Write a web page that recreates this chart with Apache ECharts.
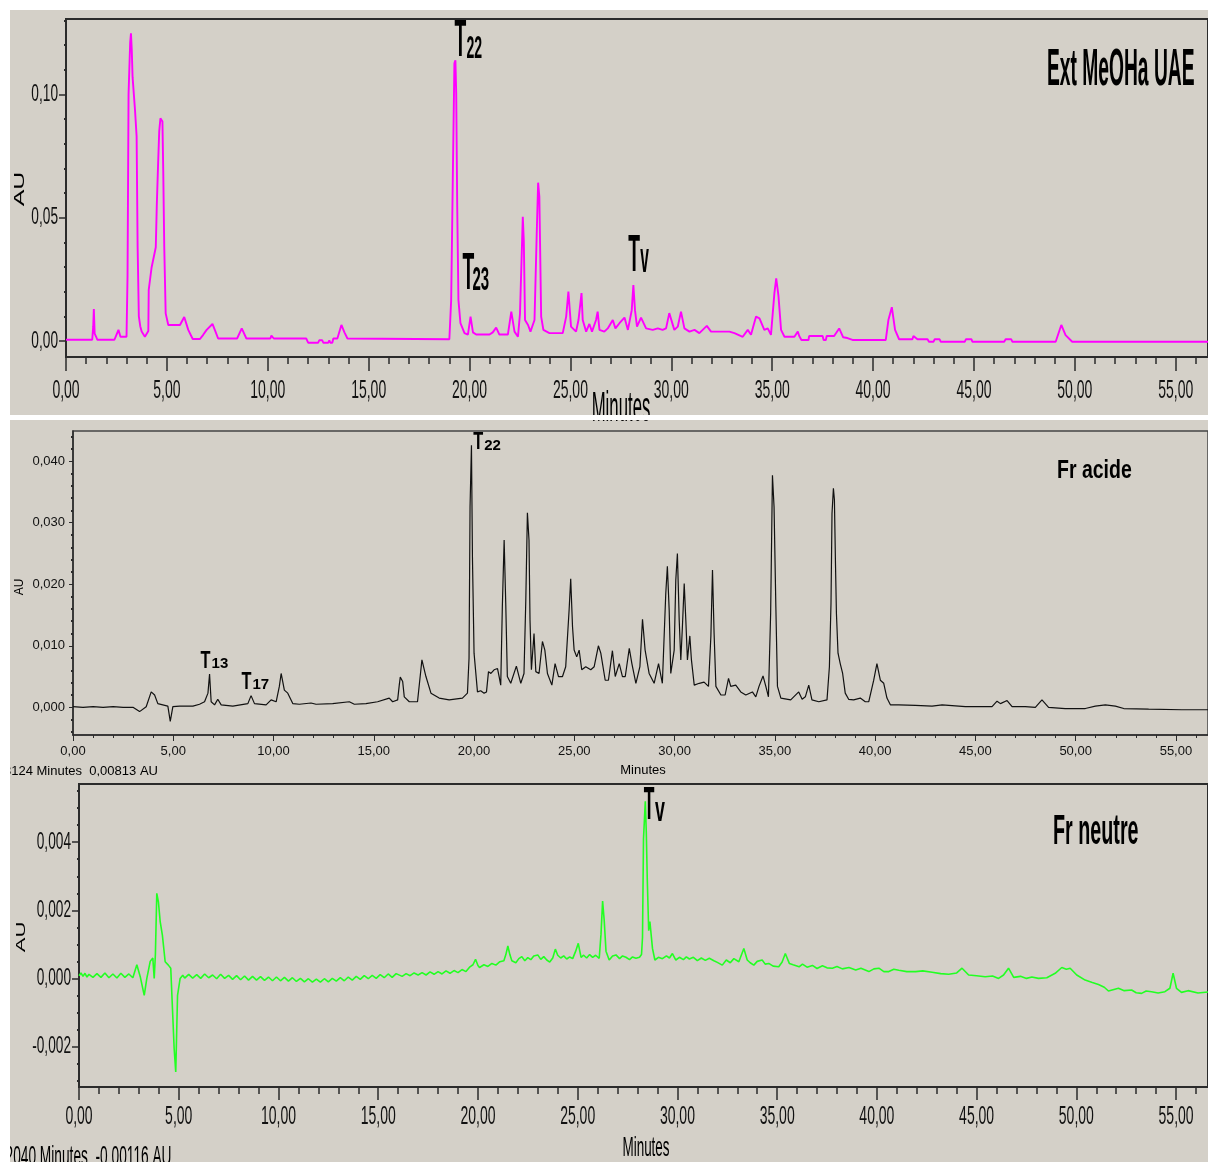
<!DOCTYPE html>
<html><head><meta charset="utf-8">
<script src="https://cdn.jsdelivr.net/npm/echarts@6/dist/echarts.min.js"></script>
<style>html,body{margin:0;padding:0;background:#fff}#c{width:1208px;height:1162px}</style>
</head><body><div id="c"></div><script>
// ---------- DATA (minutes, AU) ----------
const extMeOHa = [[0,0.0005],[1.3,0.0005],[1.35,0.006],[1.38,0.013],[1.42,0.003],[1.5,0.0016],[1.55,0.0005],[2.4,0.0005],[2.5,0.0025],[2.6,0.0045],[2.7,0.0017],[3.0,0.0017],[3.05,0.0265],[3.1,0.1],[3.18,0.121],[3.22,0.1248],[3.26,0.118],[3.3,0.107],[3.42,0.0937],[3.5,0.083],[3.55,0.038],[3.61,0.01],[3.68,0.006],[3.75,0.0038],[3.91,0.0017],[4.0,0.0025],[4.08,0.004],[4.1,0.0207],[4.24,0.0297],[4.45,0.038],[4.5,0.055],[4.56,0.0707],[4.62,0.085],[4.68,0.0903],[4.78,0.089],[4.82,0.069],[4.87,0.038],[4.94,0.0112],[5.07,0.0065],[5.65,0.0065],[5.86,0.0097],[5.95,0.009],[6.06,0.0045],[6.28,0.0008],[6.64,0.0008],[6.8,0.0025],[6.97,0.0045],[7.26,0.0069],[7.4,0.004],[7.54,0.001],[8.48,0.001],[8.71,0.0051],[8.94,0.001],[10.13,0.001],[10.18,0.0022],[10.3,0.001],[11.91,0.001],[12.0,-0.0007],[12.5,-0.0007],[12.55,0.0003],[12.7,0.0003],[12.75,-0.0007],[13.0,-0.0007],[13.05,0.0003],[13.1,-0.0007],[13.2,-0.0007],[13.25,0.001],[13.45,0.001],[13.65,0.0065],[13.8,0.0035],[13.95,0.001],[19.0,0.0007],[19.09,0.0166],[19.17,0.0653],[19.25,0.1126],[19.3,0.1139],[19.34,0.1004],[19.39,0.0545],[19.45,0.0166],[19.55,0.0072],[19.75,0.0032],[19.92,0.0026],[20.05,0.0099],[20.17,0.0035],[20.33,0.0026],[20.99,0.0026],[21.15,0.0035],[21.32,0.0054],[21.48,0.0026],[21.9,0.0026],[22.07,0.0119],[22.23,0.0038],[22.4,0.0017],[22.5,0.011],[22.64,0.0504],[22.69,0.0406],[22.75,0.0085],[22.9,0.0065],[23.02,0.0038],[23.22,0.0085],[23.33,0.0434],[23.4,0.0642],[23.46,0.0586],[23.55,0.0099],[23.66,0.0045],[23.96,0.0032],[24.62,0.0032],[24.79,0.0099],[24.9,0.02],[25.03,0.0058],[25.28,0.0038],[25.4,0.0085],[25.55,0.0194],[25.61,0.0085],[25.78,0.0038],[25.94,0.0069],[26.07,0.0038],[26.27,0.0085],[26.35,0.0119],[26.44,0.0045],[26.68,0.0038],[26.85,0.0051],[27.1,0.0085],[27.23,0.0051],[27.43,0.0072],[27.68,0.0095],[27.85,0.0045],[28.04,0.0125],[28.12,0.0227],[28.2,0.0125],[28.3,0.0058],[28.5,0.0095],[28.75,0.0051],[29.08,0.0045],[29.33,0.0051],[29.57,0.0045],[29.74,0.0051],[29.9,0.0113],[30.15,0.0045],[30.32,0.0058],[30.48,0.0119],[30.65,0.0051],[30.9,0.0038],[31.15,0.0045],[31.39,0.0032],[31.76,0.0061],[31.97,0.0038],[32.39,0.0038],[32.88,0.0038],[33.13,0.0032],[33.54,0.0017],[33.79,0.0045],[33.95,0.0025],[34.2,0.0099],[34.37,0.0092],[34.61,0.0045],[34.78,0.0051],[34.94,0.0025],[35.11,0.0194],[35.2,0.0254],[35.31,0.0184],[35.44,0.0045],[35.61,0.0017],[36.1,0.0017],[36.27,0.0038],[36.34,0.002],[36.45,0.0004],[36.8,0.0004],[36.83,0.002],[37.5,0.002],[37.55,0.0004],[37.66,0.0004],[37.7,0.002],[38.07,0.002],[38.32,0.0051],[38.52,0.0015],[38.73,0.0012],[38.98,0.0004],[40.63,0.0004],[40.76,0.0085],[40.93,0.0137],[41.09,0.0045],[41.29,0.0007],[41.95,0.0007],[42.0,0.002],[42.2,0.0007],[42.7,0.0007],[42.77,-0.0003],[43.0,-0.0003],[43.05,0.0007],[43.3,0.0007],[43.35,-0.0003],[44.55,-0.0003],[44.6,0.0007],[44.88,0.0007],[44.92,-0.0003],[46.5,-0.0003],[46.57,0.0007],[46.85,0.0007],[46.9,-0.0003],[49.05,-0.0003],[49.33,0.0065],[49.54,0.0024],[49.87,-0.0003],[56.6,-0.0003]];

const frAcide = [[0,0.0001],[0.5,0.0],[1,0.0001],[1.5,0.0],[2,0.0001],[2.5,0.0],[2.99,0.0],[3.32,-0.0007],[3.65,0.0001],[3.9,0.0025],[4.07,0.002],[4.23,0.0006],[4.48,0.0004],[4.73,0.0002],[4.85,-0.0023],[4.98,0.0001],[5.32,0.0002],[5.98,0.0002],[6.31,0.0005],[6.56,0.0009],[6.73,0.0023],[6.81,0.0054],[6.89,0.0009],[7.06,0.0004],[7.22,0.0013],[7.39,0.0004],[7.97,0.0002],[8.72,0.0006],[8.88,0.0019],[9.05,0.0006],[9.63,0.0004],[9.88,0.0012],[10.13,0.0009],[10.29,0.0034],[10.38,0.0055],[10.54,0.0028],[10.71,0.0023],[10.96,0.0006],[11.29,0.0005],[11.87,0.0007],[12.12,0.0005],[12.95,0.0006],[13.78,0.0009],[14.03,0.0005],[14.61,0.0006],[15.19,0.0009],[15.77,0.0015],[15.94,0.0009],[16.19,0.0012],[16.27,0.0036],[16.32,0.0049],[16.44,0.0042],[16.52,0.0017],[16.77,0.0009],[17.18,0.0009],[17.4,0.0077],[17.6,0.005],[17.85,0.0023],[18.26,0.0015],[18.76,0.0012],[19.42,0.0015],[19.67,0.0023],[19.75,0.008],[19.8,0.0326],[19.87,0.0426],[19.92,0.0242],[20.0,0.0088],[20.17,0.0025],[20.33,0.0027],[20.5,0.0023],[20.62,0.0025],[20.72,0.0058],[20.84,0.0055],[21.0,0.0061],[21.17,0.0063],[21.25,0.005],[21.33,0.0036],[21.41,0.0163],[21.5,0.0272],[21.58,0.0169],[21.66,0.005],[21.83,0.0039],[22.11,0.0067],[22.33,0.0039],[22.49,0.0055],[22.58,0.0174],[22.66,0.0316],[22.74,0.0272],[22.79,0.0142],[22.86,0.0061],[22.99,0.012],[23.08,0.0058],[23.24,0.0055],[23.41,0.0107],[23.53,0.0093],[23.66,0.0055],[23.88,0.0036],[24.04,0.0071],[24.21,0.005],[24.41,0.005],[24.57,0.0066],[24.74,0.0158],[24.82,0.0209],[24.91,0.0131],[24.99,0.0093],[25.12,0.0082],[25.24,0.0093],[25.37,0.0061],[25.57,0.0066],[25.82,0.0061],[25.99,0.0066],[26.2,0.01],[26.32,0.0088],[26.54,0.0044],[26.7,0.0044],[26.9,0.0092],[27.04,0.005],[27.24,0.0071],[27.4,0.005],[27.54,0.005],[27.74,0.0096],[27.87,0.0071],[28.07,0.0039],[28.27,0.0066],[28.4,0.0143],[28.53,0.0093],[28.73,0.0055],[28.98,0.0039],[29.2,0.0071],[29.39,0.0039],[29.56,0.0185],[29.64,0.0229],[29.73,0.0158],[29.81,0.0055],[29.98,0.0093],[30.06,0.0207],[30.14,0.025],[30.23,0.0142],[30.31,0.0077],[30.39,0.0131],[30.48,0.0201],[30.56,0.0142],[30.64,0.0077],[30.76,0.0116],[30.84,0.0077],[30.98,0.0036],[31.23,0.0039],[31.47,0.0041],[31.69,0.0034],[31.81,0.0116],[31.89,0.0223],[31.97,0.012],[32.06,0.0034],[32.31,0.002],[32.52,0.002],[32.69,0.0047],[32.8,0.0034],[33.05,0.0036],[33.3,0.0025],[33.55,0.002],[33.88,0.0025],[34.05,0.0017],[34.21,0.0034],[34.41,0.0051],[34.55,0.0034],[34.68,0.0017],[34.79,0.0153],[34.88,0.0377],[34.96,0.0326],[35.05,0.0163],[35.13,0.0034],[35.3,0.0015],[35.79,0.0012],[36.19,0.0025],[36.36,0.0013],[36.52,0.0017],[36.69,0.0036],[36.85,0.0012],[37.19,0.0009],[37.6,0.0012],[37.72,0.0066],[37.8,0.0169],[37.85,0.0315],[37.92,0.0356],[37.97,0.0337],[38.02,0.0239],[38.07,0.0153],[38.15,0.0088],[38.26,0.0071],[38.38,0.0055],[38.51,0.0023],[38.68,0.0013],[38.93,0.0012],[39.26,0.0015],[39.51,0.0009],[39.68,0.0009],[39.93,0.0044],[40.09,0.0071],[40.26,0.0044],[40.43,0.0039],[40.59,0.0015],[40.76,0.0004],[41.18,0.0004],[42.01,0.0003],[42.84,0.0002],[43.34,0.0004],[44.5,0.0001],[45.83,0.0001],[46.08,0.001],[46.25,0.0006],[46.58,0.0011],[46.83,0.0001],[47.49,0.0001],[47.99,0.0],[48.32,0.0012],[48.65,0.0],[49.48,-0.0002],[50.48,-0.0002],[50.98,0.0002],[51.48,0.0004],[51.98,0.0002],[52.4,-0.0002],[53.64,-0.0003],[55.3,-0.0004],[56.6,-0.0004]];

const frNeutre = [[0,0.00008],[0.1,0.00016],[0.2,0.00006],[0.3,0.00015],[0.4,0.00004],[0.5,0.00012],[0.6,0.00013],[0.7,0.00003],[0.8,0.00002],[0.9,0.00014],[1.0,0.00012],[1.1,0.00003],[1.2,0.00006],[1.3,0.00016],[1.4,0.00014],[1.5,0.00002],[1.6,0.00003],[1.7,0.00013],[1.8,0.0001],[1.9,0.00001],[2.0,0.00005],[2.1,0.00015],[2.2,0.00014],[2.3,0.00003],[2.4,0.00004],[2.5,0.00013],[2.6,0.00011],[2.7,0.00002],[2.8,0.00006],[2.9,0.0004],[3.07,0.00005],[3.27,-0.0005],[3.4,0.0],[3.57,0.0005],[3.7,0.0006],[3.77,0.0],[3.83,0.0007],[3.9,0.0025],[3.98,0.00225],[4.07,0.00167],[4.18,0.00127],[4.32,0.00049],[4.48,0.00039],[4.6,0.0003],[4.7,-0.00108],[4.77,-0.00206],[4.85,-0.00275],[4.94,-0.0005],[5.07,0.0],[5.2,0.00009],[5.3,0.00001],[5.4,0.00003],[5.5,0.00012],[5.6,0.0001],[5.7,0.00001],[5.8,0.00002],[5.9,0.00011],[6.0,0.00009],[6.1,0.0],[6.2,0.00004],[6.3,0.00013],[6.4,0.00011],[6.5,0.00002],[6.6,0.00001],[6.7,0.0001],[6.8,0.00008],[6.9,-0.00001],[7.0,0.00003],[7.1,0.00012],[7.2,0.0001],[7.3,0.0],[7.4,-0.00001],[7.5,0.00009],[7.6,0.00006],[7.7,-0.00003],[7.8,0.0],[7.9,0.00008],[8.0,0.00006],[8.1,-0.00004],[8.2,-0.00002],[8.3,0.00007],[8.4,0.00004],[8.5,-0.00005],[8.6,-0.00003],[8.7,0.00006],[8.8,0.00004],[8.9,-0.00005],[9.0,-0.00002],[9.1,0.00005],[9.2,0.00003],[9.3,-0.00006],[9.4,-0.00004],[9.5,0.00004],[9.6,0.00002],[9.7,-0.00007],[9.8,-0.00004],[9.9,0.00004],[10.0,0.00003],[10.1,-0.00007],[10.2,-0.00005],[10.3,0.00003],[10.4,0.00002],[10.5,-0.00008],[10.6,-0.00006],[10.7,0.00002],[10.8,0.0],[10.9,-0.00009],[11.0,-0.00007],[11.1,0.0],[11.2,-0.00001],[11.3,-0.0001],[11.4,-0.00008],[11.5,-0.00001],[11.6,-0.00002],[11.7,-0.00011],[11.8,-0.0001],[11.9,-0.00002],[12.0,-0.00003],[12.1,-0.00011],[12.2,-0.00009],[12.3,-0.00001],[12.4,-0.00002],[12.5,-0.0001],[12.6,-0.00008],[12.7,0.0],[12.8,0.0],[12.9,-0.00008],[13.0,-0.00006],[13.1,0.00002],[13.2,0.00002],[13.3,-0.00007],[13.4,-0.00004],[13.5,0.00004],[13.6,0.00004],[13.7,-0.00005],[13.8,-0.00002],[13.9,0.00006],[14.0,0.00005],[14.1,-0.00003],[14.2,0.0],[14.3,0.00008],[14.4,0.00007],[14.5,-0.00001],[14.6,0.00001],[14.7,0.00009],[14.8,0.00008],[14.9,0.0],[15.0,0.00003],[15.1,0.00011],[15.2,0.0001],[15.3,0.00002],[15.4,0.00004],[15.5,0.00013],[15.6,0.00012],[15.7,0.00003],[15.8,0.00005],[15.9,0.00014],[16.0,0.00012],[16.2,0.00006],[16.4,0.00014],[16.6,0.00008],[16.8,0.00016],[17.0,0.0001],[17.2,0.00017],[17.4,0.0001],[17.6,0.00019],[17.8,0.00012],[18.0,0.0002],[18.2,0.00013],[18.4,0.00022],[18.6,0.00015],[18.8,0.00023],[19.0,0.00017],[19.2,0.00026],[19.4,0.0002],[19.6,0.00034],[19.75,0.0004],[19.88,0.00056],[20.0,0.00038],[20.08,0.00032],[20.3,0.0004],[20.5,0.00035],[20.7,0.00044],[20.9,0.00039],[21.1,0.00049],[21.3,0.00052],[21.4,0.0007],[21.5,0.00095],[21.6,0.0007],[21.7,0.00052],[21.9,0.00046],[22.05,0.00058],[22.2,0.00064],[22.35,0.00052],[22.5,0.00061],[22.65,0.00055],[22.8,0.00066],[23.0,0.00069],[23.15,0.00056],[23.3,0.00064],[23.45,0.00054],[23.6,0.00048],[23.75,0.0006],[23.88,0.00086],[24.0,0.00068],[24.15,0.0006],[24.3,0.00066],[24.45,0.00057],[24.6,0.00063],[24.75,0.00058],[24.9,0.0008],[25.03,0.00103],[25.17,0.00062],[25.3,0.00068],[25.45,0.0006],[25.6,0.0007],[25.75,0.00062],[25.9,0.00068],[26.08,0.00059],[26.17,0.0013],[26.25,0.00227],[26.33,0.0017],[26.42,0.0008],[26.58,0.00054],[26.75,0.00066],[26.92,0.00069],[27.1,0.00058],[27.25,0.00066],[27.42,0.00062],[27.6,0.00055],[27.75,0.00063],[27.92,0.00059],[28.1,0.00062],[28.2,0.0007],[28.25,0.0012],[28.3,0.0041],[28.39,0.0052],[28.44,0.0043],[28.49,0.0029],[28.56,0.0014],[28.62,0.00167],[28.69,0.00165],[28.75,0.00088],[28.87,0.00054],[29.05,0.00062],[29.25,0.00058],[29.45,0.00066],[29.6,0.0006],[29.75,0.00073],[29.92,0.00054],[30.1,0.00062],[30.3,0.00055],[30.45,0.00063],[30.6,0.00057],[30.8,0.00062],[31.0,0.00052],[31.2,0.0006],[31.4,0.00053],[31.6,0.00059],[31.83,0.00052],[32.0,0.00047],[32.25,0.00039],[32.45,0.00054],[32.65,0.00046],[32.83,0.00058],[33.08,0.00049],[33.33,0.00088],[33.5,0.00054],[33.65,0.00046],[33.83,0.00039],[34.0,0.0005],[34.25,0.00054],[34.4,0.00042],[34.58,0.00044],[34.8,0.00036],[35.08,0.00034],[35.25,0.00048],[35.41,0.00073],[35.61,0.00044],[35.8,0.0004],[36.1,0.00034],[36.27,0.00042],[36.5,0.00033],[36.77,0.00038],[37.0,0.00029],[37.27,0.00037],[37.5,0.00031],[37.77,0.0003],[38.0,0.00035],[38.27,0.00028],[38.6,0.00032],[38.94,0.00025],[39.2,0.0003],[39.6,0.0002],[39.85,0.00028],[40.1,0.0003],[40.35,0.0002],[40.6,0.0002],[40.85,0.00027],[41.1,0.00024],[41.5,0.0002],[41.94,0.0002],[42.3,0.00022],[42.77,0.00018],[43.2,0.00014],[43.6,0.00012],[44.0,0.00016],[44.27,0.0003],[44.6,0.0001],[45.0,0.00008],[45.43,0.00005],[45.8,0.00007],[46.1,0.0],[46.35,0.0001],[46.6,0.0003],[46.86,0.00003],[47.2,0.00006],[47.5,0.0],[47.77,0.00004],[48.1,0.0],[48.52,0.00002],[48.94,0.00015],[49.27,0.00032],[49.5,0.00027],[49.69,0.0003],[50.02,0.0001],[50.44,-0.00005],[50.8,-0.00012],[51.11,-0.00018],[51.4,-0.00026],[51.61,-0.00037],[52.11,-0.00029],[52.4,-0.00036],[52.77,-0.00034],[53.0,-0.00042],[53.27,-0.00044],[53.5,-0.00037],[53.77,-0.00039],[54.1,-0.00043],[54.44,-0.00039],[54.69,-0.00029],[54.85,0.00015],[55.02,-0.00029],[55.27,-0.00041],[55.6,-0.00036],[56.1,-0.00043],[56.6,-0.0004]];

const xTickValues = [0,5,10,15,20,25,30,35,40,45,50,55];
const yTicksExt = [0, 0.05, 0.10];
const yMinorExt = [0.01,0.02,0.03,0.04,0.06,0.07,0.08,0.09,0.11,0.12,0.13];
const yTicksAcide = [0, 0.01, 0.02, 0.03, 0.04];
const yMinorAcide = [-0.004,-0.002,0.002,0.004,0.006,0.008,0.012,0.014,0.016,0.018,0.022,0.024,0.026,0.028,0.032,0.034,0.036,0.038,0.042,0.044];
const yTicksNeutre = [-0.002, 0, 0.002, 0.004];
const yMinorNeutre = [-0.003,-0.0025,-0.0015,-0.001,-0.0005,0.0005,0.001,0.0015,0.0025,0.003,0.0035,0.0045,0.005,0.0055];

const titles = ['Ext MeOHa UAE', 'Fr acide', 'Fr neutre'];
// peak annotations: panel, time, AU, subscript
const annotPeaks = [
  {grid:0, t:19.3,  v:0.1139, sub:'22'},
  {grid:0, t:20.05, v:0.0099, sub:'23'},
  {grid:0, t:28.12, v:0.0227, sub:'v'},
  {grid:1, t:19.87, v:0.0426, sub:'22'},
  {grid:1, t:6.81,  v:0.0054, sub:'13'},
  {grid:1, t:8.88,  v:0.0019, sub:'17'},
  {grid:2, t:28.39, v:0.0052, sub:'v'}
];
const statusTexts = ['3124 Minutes  0,00813 AU', '2040 Minutes  -0,00116 AU'];

// ---------- LAYOUT / STYLE ----------
const SANS = "'Liberation Sans',Arial,sans-serif";
const GREY = '#d4d0c8';
const AX = '#2b2b2b';
const fmt = d => v => Number(v).toFixed(d).replace('.', ',');

function xAx(i, o) {
  return {
    type: 'value', gridIndex: i, min: 0, max: 56.6, interval: 5,
    axisLine: {show: true, onZero: false, lineStyle: {color: AX, width: o.w}},
    axisTick: {show: true, customValues: xTickValues, length: o.tl, lineStyle: {color: AX, width: o.tw}},
    minorTick: {show: true, splitNumber: 5, length: o.ml, lineStyle: {color: AX, width: o.tw}},
    splitLine: {show: false}, minorSplitLine: {show: false},
    axisLabel: {show: o.lab, customValues: xTickValues, formatter: fmt(2), margin: 10, fontSize: 13, fontFamily: SANS, color: '#111'}
  };
}
function yAx(i, o) {
  return {
    type: 'value', gridIndex: i, min: o.min, max: o.max, position: 'left',
    axisLine: {show: true, onZero: false, lineStyle: {color: AX, width: o.w}},
    axisTick: {show: true, customValues: o.ticks, length: o.tl, lineStyle: {color: AX, width: o.tw}},
    splitLine: {show: false},
    axisLabel: {show: o.lab, customValues: o.ticks, formatter: fmt(o.dec), margin: 8, fontSize: 13, fontFamily: SANS, color: '#111'}
  };
}
function yMinor(i, o) {
  return {
    type: 'value', gridIndex: i, min: o.min, max: o.max, position: 'left',
    axisLine: {show: false},
    axisTick: {show: true, customValues: o.minor, length: 2, lineStyle: {color: AX, width: 2}},
    axisLabel: {show: false}, splitLine: {show: false}
  };
}

let gid = 0;
function txt(x, y, text, o) {
  return {type: 'text', id: 't' + (gid++), x, y, z: o.z || 50,
    rotation: o.rot || 0, scaleX: o.sx || 1, scaleY: o.sy || 1,
    style: {text, fill: o.fill || '#000', fontSize: o.fs, fontFamily: o.ff || SANS, fontWeight: o.fw || 'normal',
      align: o.al || 'left', verticalAlign: o.va || 'middle', textAlign: o.al || 'left', textVerticalAlign: o.va || 'middle'}};
}
function rect(x, y, w, h, fill, z) {
  return {type: 'rect', id: 'r' + (gid++), z, shape: {x, y, width: w, height: h}, style: {fill}};
}

const graphics = [
  rect(0, 0, 1208, 10, '#fff', 100),
  rect(0, 0, 10, 1162, '#fff', 100),
  rect(10, 415, 1198, 5, '#fff', 100),
  txt(1047, 71, titles[0], {fs: 52, fw: 'bold', sx: 0.37}),
  txt(1057, 471, titles[1], {fs: 25, fw: 'bold', sx: 0.78}),
  txt(1053, 832, titles[2], {fs: 42, fw: 'bold', sx: 0.47}),
  txt(621, 409, 'Minutes', {fs: 43, sx: 0.39, al: 'center'}),
  txt(643, 770, 'Minutes', {fs: 13, al: 'center'}),
  txt(646, 1148, 'Minutes', {fs: 28, sx: 0.48, al: 'center'}),
  txt(20, 189, 'AU', {fs: 25, rot: Math.PI / 2, sy: 0.55, al: 'center'}),
  txt(20, 587, 'AU', {fs: 12, rot: Math.PI / 2, al: 'center'}),
  txt(21.5, 937, 'AU', {fs: 22, rot: Math.PI / 2, sy: 0.55, al: 'center'}),
  txt(4, 771, statusTexts[0], {fs: 13}),
  rect(10, 776.5, 220, 6, GREY, 60),
  txt(5.5, 1157, statusTexts[1], {fs: 28, sx: 0.49})
];

// label offsets relative to each annotated peak (pixels)
const annotLayout = [
  {dx: -1,   dy: -18.6, fs: 52, sx: 0.37, sdx: 11,   sdy: -11,   sfs: 32, ssx: 0.44},
  {dx: -8,   dy: -41.6, fs: 52, sx: 0.37, sdx: 2,    sdy: -36,   sfs: 34, ssx: 0.44},
  {dx: -5,   dy: -28.5, fs: 52, sx: 0.37, sdx: 7,    sdy: -24.6, sfs: 42, ssx: 0.37},
  {dx: 1.7,  dy: -3,    fs: 24, sx: 0.68, sdx: 12.7, sdy: 0.3,   sfs: 15, ssx: 1},
  {dx: -9,   dy: -13,   fs: 24, sx: 0.68, sdx: 2,    sdy: -10.5, sfs: 15, ssx: 1},
  {dx: -9.6, dy: -12.8, fs: 24, sx: 0.68, sdx: 1.4,  sdy: -10.3, sfs: 15, ssx: 1},
  {dx: -1.6, dy: 5.2,   fs: 46, sx: 0.38, sdx: 9.8,  sdy: 9.5,   sfs: 35, ssx: 0.51}
];

const ext = {min: -0.0065, max: 0.1306, ticks: yTicksExt, minor: yMinorExt, dec: 2, w: 2, tl: 7, tw: 1.5, lab: false};
const aci = {min: -0.0045, max: 0.0449, ticks: yTicksAcide, minor: yMinorAcide, dec: 3, w: 1.5, tl: 4, tw: 1, lab: true};
const neu = {min: -0.00319, max: 0.00571, ticks: yTicksNeutre, minor: yMinorNeutre, dec: 3, w: 2, tl: 7, tw: 1.5, lab: false};

const option = {
  backgroundColor: GREY,
  animation: false,
  grid: [
    {left: 66, top: 19, width: 1144, height: 338, show: true, borderColor: AX, borderWidth: 2, backgroundColor: 'transparent'},
    {left: 73, top: 431, width: 1137, height: 304, show: true, borderColor: '#444', borderWidth: 1.5, backgroundColor: 'transparent'},
    {left: 79, top: 784, width: 1131, height: 303, show: true, borderColor: AX, borderWidth: 2, backgroundColor: 'transparent'}
  ],
  xAxis: [
    xAx(0, {w: 2, tl: 14, ml: 7, tw: 1.5, lab: false}),
    xAx(1, {w: 1.5, tl: 6, ml: 3, tw: 1, lab: true}),
    xAx(2, {w: 2, tl: 13, ml: 7, tw: 1.5, lab: false})
  ],
  yAxis: [yAx(0, ext), yMinor(0, ext), yAx(1, aci), yMinor(1, aci), yAx(2, neu), yMinor(2, neu)],
  series: [
    {type: 'line', xAxisIndex: 0, yAxisIndex: 0, data: extMeOHa, showSymbol: false, symbol: 'none', lineStyle: {color: '#ff00ff', width: 1.9}},
    {type: 'line', xAxisIndex: 1, yAxisIndex: 2, data: frAcide, showSymbol: false, symbol: 'none', lineStyle: {color: '#111', width: 1.2}},
    {type: 'line', xAxisIndex: 2, yAxisIndex: 4, data: frNeutre, showSymbol: false, symbol: 'none', lineStyle: {color: '#22ff22', width: 1.6}}
  ],
  graphic: {elements: graphics}
};

const chart = echarts.init(document.getElementById('c'), null, {renderer: 'canvas'});
chart.setOption(option);

const extra = [];
// condensed tick labels for panels 1 and 3, placed with the axes' own scales
[{g: 0, cfg: ext, dx: 34, dec: 2}, {g: 2, cfg: neu, dx: 30, dec: 3}].forEach(P => {
  xTickValues.forEach(t => {
    const p = chart.convertToPixel({gridIndex: P.g}, [t, P.cfg.min]);
    extra.push(txt(p[0], p[1] + P.dx, fmt(2)(t), {fs: 25, sx: 0.56, al: 'center', fill: '#111'}));
  });
  P.cfg.ticks.forEach(v => {
    const p = chart.convertToPixel({gridIndex: P.g}, [0, v]);
    extra.push(txt(p[0] - 8, p[1], fmt(P.dec)(v), {fs: 24, sx: 0.57, al: 'right', fill: '#111'}));
  });
});
// peak annotations
annotPeaks.forEach((a, i) => {
  const p = chart.convertToPixel({gridIndex: a.grid}, [a.t, a.v]);
  const L = annotLayout[i];
  extra.push(txt(p[0] + L.dx, p[1] + L.dy, 'T', {fs: L.fs, fw: 'bold', sx: L.sx}));
  extra.push(txt(p[0] + L.sdx, p[1] + L.sdy, a.sub, {fs: L.sfs, fw: 'bold', sx: L.ssx}));
});
option.graphic = {elements: graphics.concat(extra)};
chart.setOption(option, true);
</script></body></html>
